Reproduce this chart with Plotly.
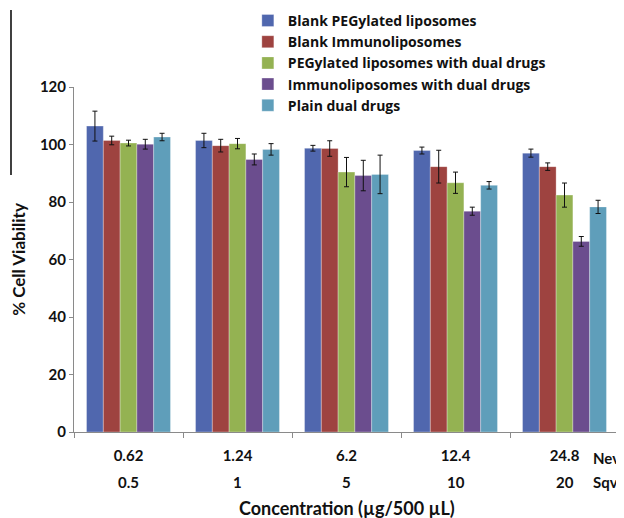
import plotly.graph_objects as go

categories = ["0.62", "1.24", "6.2", "12.4", "24.8"]
second_row = ["0.5", "1", "5", "10", "20"]

series_names = [
    "Blank PEGylated liposomes",
    "Blank Immunoliposomes",
    "PEGylated liposomes with dual drugs",
    "Immunoliposomes with dual drugs",
    "Plain dual drugs",
]
blank_peg = [106.4, 101.4, 98.7, 97.9, 97.0]
blank_immuno = [101.4, 99.6, 98.6, 92.3, 92.3]
peg_dual = [100.5, 100.3, 90.4, 86.7, 82.4]
immuno_dual = [100.1, 94.8, 89.2, 76.8, 66.3]
plain_dual = [102.6, 98.3, 89.6, 85.8, 78.3]

blank_peg_err = [5.2, 2.5, 1.0, 1.2, 1.4]
blank_immuno_err = [1.5, 2.2, 2.7, 5.7, 1.3]
peg_dual_err = [1.0, 1.8, 5.1, 3.7, 4.2]
immuno_dual_err = [1.7, 1.9, 5.3, 1.4, 1.7]
plain_dual_err = [1.3, 2.0, 6.7, 1.3, 2.3]

values = [blank_peg, blank_immuno, peg_dual, immuno_dual, plain_dual]
errors = [blank_peg_err, blank_immuno_err, peg_dual_err, immuno_dual_err, plain_dual_err]
colors = ["#5067AE", "#9E4340", "#94B252", "#6B4D8E", "#5F9EBA"]

FONT = "Lato"
LEGEND_FONT = "Open Sans"
INK = "#111111"

fig = go.Figure()
for name, v, e, c in zip(series_names, values, errors, colors):
    fig.add_trace(go.Bar(
        name=name, x=categories, y=v,
        marker=dict(color=c, line=dict(color="rgba(255,255,255,0.6)", width=0.5)),
        error_y=dict(type="data", array=e, visible=True, color=INK, thickness=1, width=2.5),
    ))

annotations = []
for i, lab in enumerate(second_row):
    annotations.append(dict(x=i, y=-0.145, xref="x", yref="paper", text=lab, showarrow=False,
                            font=dict(family=FONT, size=15, color=INK, weight="bold"),
                            xanchor="center", yanchor="middle"))
annotations += [
    dict(x=0.948, y=-0.075, xref="paper", yref="paper", text="Nev", showarrow=False,
         font=dict(family=FONT, size=15, color=INK, weight="bold"), xanchor="left", yanchor="middle"),
    dict(x=0.948, y=-0.145, xref="paper", yref="paper", text="Sqv", showarrow=False,
         font=dict(family=FONT, size=15, color=INK, weight="bold"), xanchor="left", yanchor="middle"),
    dict(x=0.5, y=-0.22, xref="paper", yref="paper", text="Concentration (µg/500 µL)", showarrow=False,
         font=dict(family=FONT, size=18, color=INK, weight="bold"), xanchor="center", yanchor="middle"),
]

# page body adds an 8px offset; figure is sized so the plot area lands where the reference has it
fig.update_layout(
    width=616, height=510,
    margin=dict(l=66, r=5, t=79, b=86, autoexpand=False),
    paper_bgcolor="white", plot_bgcolor="white",
    barmode="group", bargap=0.23, bargroupgap=0,
    font=dict(family=FONT, color=INK),
    showlegend=True,
    legend=dict(x=0.319, y=1.238, xanchor="left", yanchor="top",
                font=dict(family=LEGEND_FONT, size=14, color=INK, weight="bold"),
                bgcolor="rgba(0,0,0,0)", tracegroupgap=0, itemwidth=30),
    annotations=annotations,
    shapes=[dict(type="line", xref="paper", yref="paper", x0=-0.1156, x1=-0.1156, y0=1.223, y1=0.745,
                 line=dict(color="black", width=1.5))],
    xaxis=dict(type="category", range=[-0.5, 4.5], autorange=False, showline=True, linecolor="#8a8a8a",
               linewidth=1, ticks="outside", tickson="boundaries", ticklen=5, tickcolor="#8a8a8a",
               tickangle=0, ticklabelstandoff=10,
               tickfont=dict(family=FONT, size=15, color=INK, weight="bold"),
               showgrid=False, zeroline=False),
    yaxis=dict(range=[0, 120], dtick=20, showline=True, linecolor="#8a8a8a", linewidth=1,
               ticks="outside", ticklen=4, tickcolor="#8a8a8a", showgrid=False, zeroline=False,
               tickfont=dict(family=FONT, size=15, color=INK, weight="bold"),
               title=dict(text="% Cell Viability", standoff=9,
                          font=dict(family=FONT, size=17, color=INK, weight="bold"))),
)

fig.write_html("out.html")
